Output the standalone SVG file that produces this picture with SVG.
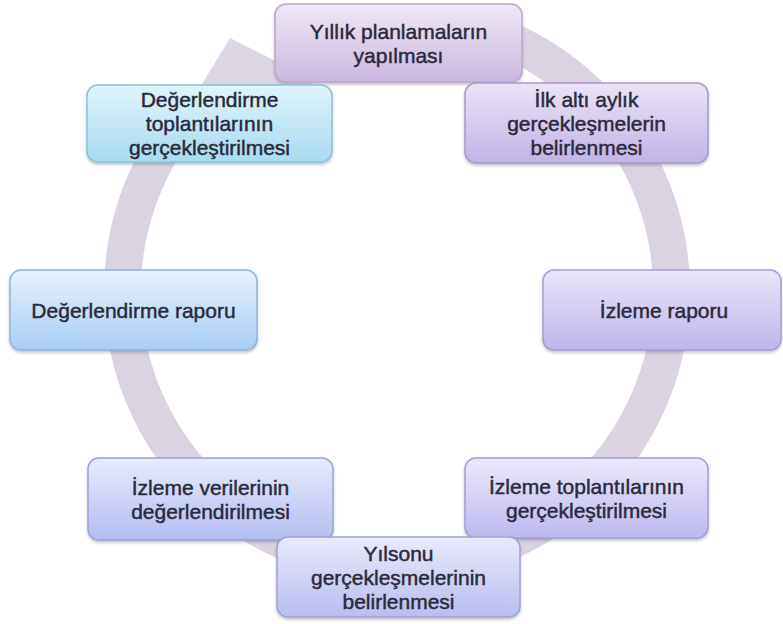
<svg xmlns="http://www.w3.org/2000/svg" width="783" height="624" viewBox="0 0 783 624">
<defs>
<style>
.t{font-family:"Liberation Sans",Arial,sans-serif;font-size:21px;fill:#2a2a3a;text-anchor:middle;stroke:#2a2a3a;stroke-width:0.45}
.b{stroke-width:1.5;filter:url(#sh)}
.ring{fill:none;stroke:#dbd3e2;stroke-width:37}
</style>
<filter id="sh" x="-10%" y="-10%" width="120%" height="130%">
<feDropShadow dx="0" dy="2" stdDeviation="1.8" flood-color="#555" flood-opacity="0.35"/>
</filter>
<linearGradient id="g1" x1="0" y1="0" x2="0" y2="1"><stop offset="0" stop-color="#f0e8f5"/><stop offset="1" stop-color="#cbb7de"/></linearGradient>
<linearGradient id="g2" x1="0" y1="0" x2="0" y2="1"><stop offset="0" stop-color="#e0f4fb"/><stop offset="1" stop-color="#a8dbef"/></linearGradient>
<linearGradient id="g3" x1="0" y1="0" x2="0" y2="1"><stop offset="0" stop-color="#ebe4f7"/><stop offset="1" stop-color="#c3b3e5"/></linearGradient>
<linearGradient id="g4" x1="0" y1="0" x2="0" y2="1"><stop offset="0" stop-color="#e8f2fd"/><stop offset="1" stop-color="#a8cdf2"/></linearGradient>
<linearGradient id="g5" x1="0" y1="0" x2="0" y2="1"><stop offset="0" stop-color="#eae6f9"/><stop offset="1" stop-color="#bfb4ec"/></linearGradient>
<linearGradient id="g6" x1="0" y1="0" x2="0" y2="1"><stop offset="0" stop-color="#e8ebfc"/><stop offset="1" stop-color="#b4bdf0"/></linearGradient>
<linearGradient id="g7" x1="0" y1="0" x2="0" y2="1"><stop offset="0" stop-color="#e9eafb"/><stop offset="1" stop-color="#b9bdee"/></linearGradient>
<linearGradient id="g8" x1="0" y1="0" x2="0" y2="1"><stop offset="0" stop-color="#ece9fb"/><stop offset="1" stop-color="#bdb8ee"/></linearGradient>
</defs>
<rect width="783" height="624" fill="#ffffff"/>
<g id="connectors">
<path class="ring" d="M 490.9 33.0 A 274.5 274.5 0 1 1 193.0 107.3"/>
<polygon points="185,112 230,38 262,54 312,80 312,130 200,130" fill="#ddd6e4"/>
</g>
<g id="n1">
<rect class="b" x="275" y="4" width="247" height="78" rx="11" fill="url(#g1)" stroke="#b9a8cc"/>
<text class="t" x="398.5" y="38.5">Yıllık planlamaların</text>
<text class="t" x="398.5" y="62.5">yapılması</text>
</g>
<g id="n2">
<rect class="b" x="87" y="85" width="245" height="77" rx="11" fill="url(#g2)" stroke="#8cc2d6"/>
<text class="t" x="209.5" y="107">Değerlendirme</text>
<text class="t" x="209.5" y="131">toplantılarının</text>
<text class="t" x="209.5" y="155">gerçekleştirilmesi</text>
</g>
<g id="n3">
<rect class="b" x="465" y="83" width="243" height="80" rx="11" fill="url(#g3)" stroke="#a898c9"/>
<text class="t" x="586.5" y="106.5">İlk altı aylık</text>
<text class="t" x="586.5" y="130.5">gerçekleşmelerin</text>
<text class="t" x="586.5" y="154.5">belirlenmesi</text>
</g>
<g id="n4">
<rect class="b" x="10" y="270" width="247" height="80" rx="11" fill="url(#g4)" stroke="#8fb4d9"/>
<text class="t" x="133.5" y="317.5">Değerlendirme raporu</text>
</g>
<g id="n5">
<rect class="b" x="543" y="270" width="238" height="80" rx="11" fill="url(#g5)" stroke="#a59cd1"/>
<text class="t" x="664" y="317.5">İzleme raporu</text>
</g>
<g id="n6">
<rect class="b" x="88" y="458" width="245" height="82" rx="11" fill="url(#g6)" stroke="#9aa3d5"/>
<text class="t" x="210.5" y="495">İzleme verilerinin</text>
<text class="t" x="210.5" y="519">değerlendirilmesi</text>
</g>
<g id="n8">
<rect class="b" x="465" y="458" width="243" height="80" rx="11" fill="url(#g8)" stroke="#a19ed4"/>
<text class="t" x="586.5" y="494">İzleme toplantılarının</text>
<text class="t" x="586.5" y="518">gerçekleştirilmesi</text>
</g>
<g id="n7">
<rect class="b" x="277" y="537" width="243" height="80" rx="11" fill="url(#g7)" stroke="#9ea2d3"/>
<text class="t" x="398.5" y="560.5">Yılsonu</text>
<text class="t" x="398.5" y="584.5">gerçekleşmelerinin</text>
<text class="t" x="398.5" y="608.5">belirlenmesi</text>
</g>
</svg>
